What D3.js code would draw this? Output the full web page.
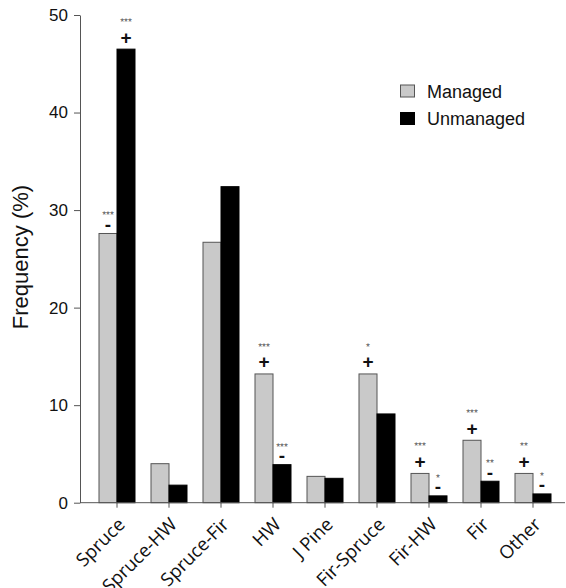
<!DOCTYPE html>
<html>
<head>
<meta charset="utf-8">
<script src="https://cdn.jsdelivr.net/npm/d3@7"></script>
<style>
  body { margin: 0; background: #fff; }
  svg { display: block; font-family: "Liberation Sans", Arial, sans-serif; }
  .xlab { font-family: "Open Sans", sans-serif; }
</style>
</head>
<body>
<svg id="chart" width="566" height="588"></svg>
<script>
const categories = ['Spruce', 'Spruce-HW', 'Spruce-Fir', 'HW', 'J Pine', 'Fir-Spruce', 'Fir-HW', 'Fir', 'Other'];
const managed = [27.6, 4.0, 26.7, 13.2, 2.7, 13.2, 3.0, 6.4, 3.0];
const unmanaged = [46.5, 1.8, 32.4, 3.9, 2.5, 9.1, 0.7, 2.2, 0.9];
// significance: sign above bar and star count
const managedSign = ['-', '', '', '+', '', '+', '+', '+', '+'];
const managedStars = ['***', '', '', '***', '', '*', '***', '***', '**'];
const unmanagedSign = ['+', '', '', '-', '', '', '-', '-', '-'];
const unmanagedStars = ['***', '', '', '***', '', '', '*', '**', '*'];
const yTicks = [0, 10, 20, 30, 40, 50];
const seriesNames = ['Managed', 'Unmanaged'];

const svg = d3.select('#chart');
const axisColor = '#555';

const y = d3.scaleLinear().domain([0, 50]).range([502.7, 15]);
const x = d3.scaleBand().domain(categories).range([91, 559]);
const barW = 18;

// bars
const g = svg.append('g');
function drawSeries(values, fill, offset) {
    g.selectAll(null)
        .data(values)
        .enter().append('rect')
        .attr('x', (d, i) => x(categories[i]) + x.bandwidth() / 2 + offset)
        .attr('y', d => y(d))
        .attr('width', barW)
        .attr('height', d => y(0) - y(d))
        .attr('fill', fill)
        .attr('stroke', fill === '#000' ? '#000' : axisColor)
        .attr('stroke-width', 1);
}
drawSeries(managed, '#c9c9c9', -barW);
drawSeries(unmanaged, '#000', 0);

// annotations
function drawMarks(values, signs, stars, offset) {
    values.forEach((v, i) => {
        const cx = x(categories[i]) + x.bandwidth() / 2 + offset + barW / 2;
        const top = y(v);
        const s = signs[i];
        if (!s) return;
        const plus = s === '+';
        svg.append('text')
            .attr('x', cx)
            .attr('y', plus ? top - 5.5 : top - 2.5)
            .attr('text-anchor', 'middle')
            .attr('font-size', 19)
            .attr('font-weight', 'bold')
            .attr('fill', '#111')
            .text(s);
        if (stars[i]) {
            svg.append('text')
                .attr('x', cx)
                .attr('y', plus ? top - 24 : top - 15)
                .attr('text-anchor', 'middle')
                .attr('font-size', 10)
                .attr('fill', '#555')
                .style('text-rendering', 'geometricPrecision')
                .text(stars[i]);
        }
    });
}
drawMarks(managed, managedSign, managedStars, -barW);
drawMarks(unmanaged, unmanagedSign, unmanagedStars, 0);

// y axis
const yAxis = svg.append('g')
    .attr('transform', 'translate(80,0)')
    .call(d3.axisLeft(y).tickValues(yTicks).tickSize(6).tickPadding(6).tickSizeOuter(0));
yAxis.select('.domain').attr('stroke', axisColor);
yAxis.selectAll('.tick line').attr('stroke', axisColor);
yAxis.selectAll('.tick text')
    .attr('font-size', 17)
    .attr('font-family', '"Liberation Sans", Arial, sans-serif')
    .attr('fill', '#111');

// x axis
svg.append('line')
    .attr('x1', 80).attr('x2', 565)
    .attr('y1', y(0)).attr('y2', y(0))
    .attr('stroke', axisColor);
const xAxis = svg.append('g')
    .attr('transform', `translate(0,${y(0)})`)
    .call(d3.axisBottom(x).tickSize(5).tickSizeOuter(0));
xAxis.select('.domain').remove();
xAxis.selectAll('.tick line').attr('stroke', axisColor);
xAxis.selectAll('.tick text')
    .attr('class', 'xlab')
    .attr('font-size', 18.5)
    .attr('fill', '#111')
    .attr('text-anchor', 'end')
    .attr('y', 0).attr('dy', 0)
    .attr('transform', 'translate(9,23) rotate(-45)');

// y label
svg.append('text')
    .attr('transform', 'translate(27.5,257) rotate(-90)')
    .attr('text-anchor', 'middle')
    .attr('font-size', 22)
    .attr('fill', '#111')
    .text('Frequency (%)');

// legend
const legend = svg.append('g');
seriesNames.forEach((name, i) => {
    const ly = 85 + i * 27.5;
    legend.append('rect')
        .attr('x', 400.5).attr('y', ly)
        .attr('width', 14).attr('height', 12)
        .attr('fill', i === 0 ? '#c9c9c9' : '#000')
        .attr('stroke', i === 0 ? axisColor : '#000');
    legend.append('text')
        .attr('x', 427).attr('y', ly + 12.5)
        .attr('font-size', 18)
        .attr('fill', '#111')
        .text(name);
});
</script>
</body>
</html>
